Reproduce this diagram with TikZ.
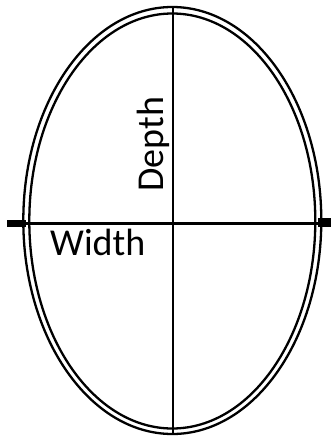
\documentclass[tikz,border=0pt]{standalone}
\usepackage{fontspec}
\setmainfont{Carlito}
\begin{document}
\begin{tikzpicture}[x=1pt,y=-1pt,
  rim/.style={line width=2.3pt,black},
  axis/.style={line width=2.8pt,black},
  endbar/.style={line width=7.5pt,black},
  lbl/.style={inner sep=0pt,font=\fontsize{38}{40}\selectfont}]
\useasboundingbox (0,0) rectangle (331,439);
\coordinate (c) at (172.3,220.5);
\draw[rim] (c) ellipse [x radius=149, y radius=-213.5];
\draw[rim] (172.3,221) ellipse [x radius=143, y radius=-207.5];
\coordinate (top) at (173,8);
\coordinate (bot) at (173,433);
\coordinate (l) at (7,223.5);
\coordinate (r) at (331,223.5);
\coordinate (l2) at (26,223.5);
\coordinate (r2) at (318,222.5);
\coordinate (r3) at (331,222.5);
\draw[axis] (top) -- (bot);
\draw[axis] (l) -- (r);
\draw[endbar] (l) -- (l2);
\draw[endbar,line width=9pt] (r2) -- (r3);
\node[lbl,anchor=base west] (w) at (50,255) {Width};
\node[lbl,anchor=base west,rotate=90] (d) at (163,192) {Depth};
\end{tikzpicture}
\end{document}
